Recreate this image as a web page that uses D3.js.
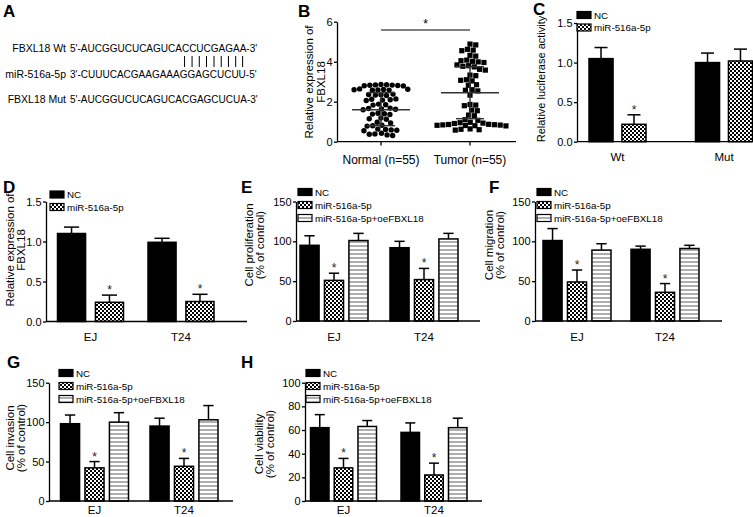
<!DOCTYPE html>
<html><head><meta charset="utf-8">
<script src="https://cdn.jsdelivr.net/npm/d3@7"></script>
<style>body{margin:0;background:#fff} svg{display:block} text{font-family:"Liberation Sans",Arial,sans-serif}</style>
</head><body><svg id="fig" width="753" height="517"></svg>
<script>
// ================= DATA =================
// Panel A
const seqNames = ["FBXL18 Wt", "miR-516a-5p", "FBXL18 Mut"];
const seqStrings = ["5'-AUCGGUCUCAGUCACCUCGAGAA-3'", "3'-CUUUCACGAAGAAAGGAGCUCUU-5'", "5'-AUCGGUCUCAGUCACGAGCUCUA-3'"];
const pairedPositions = [15, 16, 17, 18, 19, 20, 21, 22, 23]; // 1-based base positions paired Wt/miR

// Panel B
const bCategories = ["Normal (n=55)", "Tumor (n=55)"];
const normalValues = [2.86,2.84,2.82,2.80,2.85,2.83,2.81,2.79, 2.62,2.60,2.58,2.64,2.61,2.59,2.57,
  2.38,2.35,2.33,2.36,2.31, 2.12,2.10,2.08,2.14,2.06, 1.88,1.85,1.83, 1.68,1.66,1.64,1.62,1.60,
  1.42,1.40,1.38,1.36, 1.18,1.15,1.12, 0.97,0.94, 0.82,0.80,0.78, 0.63,0.61,0.59,0.57,0.55,
  0.42,0.39,0.37,0.34,0.31];
const tumorValues = [4.88,4.84, 4.62,4.58,4.55, 4.32,4.28, 4.08,4.05,4.02,3.99,3.96, 3.84,3.80,3.77,3.74,
  3.62,3.58, 3.33,3.30, 3.10,3.07,3.04, 2.85,2.82, 2.60,2.57,2.54, 2.33, 1.86,1.83,1.80, 1.58,1.55,
  1.33,1.30, 1.10,1.07, 0.97,0.95,0.93,0.91, 0.87,0.86,0.85,0.84,0.83,0.82,0.81,0.80,0.79,
  0.64,0.62,0.60,0.58];
const bMean = [1.6, 2.45];
const bSdLow = [0.8, 1.15];
const bSdHigh = [2.45, 3.75];
const bTicks = [0, 2, 4, 6];

// Panel C
const cCategories = ["Wt", "Mut"];
const cSeries = ["NC", "miR-516a-5p"];
const cValues = [[1.05, 0.22], [1.00, 1.02]];
const cErrors = [[0.14, 0.12], [0.12, 0.15]];
const cStars = [[0, 1], [0, 0]];
const cTicks = [0, 0.5, 1.0, 1.5];

// Panel D
const dCategories = ["EJ", "T24"];
const dSeries = ["NC", "miR-516a-5p"];
const dValues = [[1.10, 0.24], [0.99, 0.25]];
const dErrors = [[0.08, 0.09], [0.05, 0.09]];
const dStars = [[0, 1], [0, 1]];
const dTicks = [0, 0.5, 1.0, 1.5];

// Panels E-H
const cellCategories = ["EJ", "T24"];
const cellSeries = ["NC", "miR-516a-5p", "miR-516a-5p+oeFBXL18"];
const cellStars = [[0, 1, 0], [0, 1, 0]];
const eValues = [[95, 51, 101], [92, 52, 103]];
const eErrors = [[12, 9, 9], [8, 14, 7]];
const fValues = [[101, 49, 89], [90, 36, 91]];
const fErrors = [[15, 15, 8], [4, 11, 4]];
const gValues = [[98, 42, 100], [95, 44, 103]];
const gErrors = [[11, 8, 12], [10, 10, 18]];
const hValues = [[62, 28, 63], [58, 22, 62]];
const hErrors = [[11, 8, 5], [8, 10, 8]];
const pctTicks = [0, 50, 100, 150];
const viaTicks = [0, 20, 40, 60, 80, 100];

// ================= DRAWING =================
const svg = d3.select("#fig");
const FONT = '"Liberation Sans",Arial,sans-serif';
const defs = svg.append("defs");
const chk = defs.append("pattern").attr("id", "chk").attr("width", 4).attr("height", 4).attr("patternUnits", "userSpaceOnUse");
chk.append("rect").attr("width", 4).attr("height", 4).attr("fill", "#fff");
chk.append("rect").attr("width", 2).attr("height", 2).attr("fill", "#000");
chk.append("rect").attr("x", 2).attr("y", 2).attr("width", 2).attr("height", 2).attr("fill", "#000");
const stp = defs.append("pattern").attr("id", "stripe").attr("width", 4).attr("height", 4).attr("patternUnits", "userSpaceOnUse");
stp.append("rect").attr("width", 4).attr("height", 4).attr("fill", "#fff");
stp.append("rect").attr("y", 1.3).attr("width", 4).attr("height", 1.4).attr("fill", "#8c8c8c");
const fills = ["#000", "url(#chk)", "url(#stripe)"];

function letter(t, x, y) {
  svg.append("text").attr("x", x).attr("y", y).attr("font-size", 17).attr("font-weight", "bold").text(t);
}

function yAxis(x, y, ticks, fmt) {
  const g = svg.append("g").attr("transform", `translate(${x},0)`)
    .call(d3.axisLeft(y).tickValues(ticks).tickFormat(fmt).tickSize(3).tickSizeOuter(0).tickPadding(1.5));
  g.select(".domain").attr("stroke", "#000").attr("stroke-width", 1.3);
  g.selectAll(".tick line").attr("stroke", "#000").attr("stroke-width", 1.3);
  g.selectAll(".tick text").attr("font-size", 11).attr("font-family", FONT).attr("fill", "#000");
  return g;
}

function yTitle(lines, xs, cy, fs) {
  lines.forEach((l, i) => {
    svg.append("text").attr("transform", `translate(${xs[i] + 4},${cy}) rotate(-90)`)
      .attr("text-anchor", "middle").attr("font-size", fs || 11.5).text(l);
  });
}

function legend(series, x, ys) {
  series.forEach((s, i) => {
    svg.append("rect").attr("x", x).attr("y", ys[i] - 3.5).attr("width", 14).attr("height", 7)
      .attr("fill", fills[i]).attr("stroke", "#000").attr("stroke-width", 1.2);
    svg.append("text").attr("x", x + 17).attr("y", ys[i] + 3.5).attr("font-size", 9.8).text(s);
  });
}

function barPanel(c) {
  const y = d3.scaleLinear().domain([0, c.ticks[c.ticks.length - 1]]).range([c.yBottom, c.yTop]);
  const gx = d3.scalePoint().domain(c.cats).range(c.centers);
  const inner = d3.scaleBand().domain(c.series).range([-c.gw / 2, c.gw / 2]).paddingInner(c.pad);
  c.cats.forEach((cat, ci) => {
    c.series.forEach((s, si) => {
      const v = c.values[ci][si], e = c.errors[ci][si];
      const x0 = gx(cat) + inner(s), bw = inner.bandwidth(), xm = x0 + bw / 2;
      svg.append("line").attr("x1", xm).attr("x2", xm).attr("y1", y(v)).attr("y2", y(v + e))
        .attr("stroke", "#000").attr("stroke-width", 1.5);
      svg.append("line").attr("x1", xm - bw * 0.27).attr("x2", xm + bw * 0.27).attr("y1", y(v + e)).attr("y2", y(v + e))
        .attr("stroke", "#000").attr("stroke-width", 1.5);
      svg.append("rect").attr("x", x0).attr("y", y(v)).attr("width", bw).attr("height", y(0) - y(v))
        .attr("fill", fills[si]).attr("stroke", "#000").attr("stroke-width", 1.5);
      if (c.stars[ci][si]) {
        svg.append("text").attr("x", xm).attr("y", y(v + e) - 1).attr("text-anchor", "middle")
          .attr("font-size", 12).attr("fill", "#222").text("*");
      }
    });
    svg.append("text").attr("x", gx(cat)).attr("y", c.labY).attr("text-anchor", "middle")
      .attr("font-size", 11.5).text(cat);
  });
  svg.append("line").attr("x1", c.axisX).attr("x2", c.xEnd).attr("y1", c.yBottom).attr("y2", c.yBottom)
    .attr("stroke", "#000").attr("stroke-width", 1.3);
  yAxis(c.axisX, y, c.ticks, c.fmt);
  yTitle(c.title, c.titleX, c.titleY, c.titleFs);
  legend(c.series, c.legX, c.legY);
  letter(c.letter, c.lx, c.ly);
}

// ---- Panel A ----
letter("A", 3, 17);
const seqY = [52, 78, 103];
const seqEls = seqNames.map((n, i) => {
  svg.append("text").attr("x", 66).attr("y", seqY[i]).attr("text-anchor", "end").attr("font-size", 10.5).text(n);
  return svg.append("text").attr("x", 70).attr("y", seqY[i]).attr("font-size", 10).text(seqStrings[i]);
});
pairedPositions.forEach(p => {
  const idx = p + 2; // skip "5'-"
  const b1 = seqEls[0].node().getExtentOfChar(idx);
  const b2 = seqEls[1].node().getExtentOfChar(idx);
  const xm = ((b1.x + b1.width / 2) + (b2.x + b2.width / 2)) / 2;
  svg.append("line").attr("x1", xm).attr("x2", xm).attr("y1", 56).attr("y2", 67).attr("stroke", "#000").attr("stroke-width", 1);
});

// ---- Panel B ----
letter("B", 298, 17);
{
  const y = d3.scaleLinear().domain([0, 6]).range([141.7, 21.7]);
  const x = d3.scalePoint().domain(bCategories).range([381, 470]);
  svg.append("line").attr("x1", 337).attr("x2", 516).attr("y1", 141.7).attr("y2", 141.7).attr("stroke", "#000").attr("stroke-width", 1.3);
  bCategories.forEach(c => {
    svg.append("line").attr("x1", x(c)).attr("x2", x(c)).attr("y1", 141.7).attr("y2", 145.5).attr("stroke", "#000").attr("stroke-width", 1.3);
    svg.append("text").attr("x", x(c)).attr("y", 164).attr("text-anchor", "middle").attr("font-size", 12).text(c);
  });
  yAxis(337, y, bTicks, d3.format("d"));
  yTitle(["Relative expression of", "FBXL18"], [309, 321], 82);

  function swarm(values, cx, d) {
    const pts = values.map(v => ({ v, y: y(v) })).sort((a, b) => a.y - b.y);
    const placed = [];
    for (const p of pts) {
      const cands = [0];
      for (const q of placed) {
        const dy = Math.abs(q.y - p.y);
        if (dy < d) { const dx = Math.sqrt(d * d - dy * dy); cands.push(q.dx + dx, q.dx - dx); }
      }
      cands.sort((a, b) => Math.abs(a) - Math.abs(b));
      for (const c of cands) {
        if (placed.every(q => (q.dx - c) ** 2 + (q.y - p.y) ** 2 >= d * d - 0.01)) { p.dx = c; break; }
      }
      placed.push(p);
    }
    return placed.map(p => ({ x: cx + p.dx, y: p.y }));
  }
  swarm(normalValues, x(bCategories[0]), 5.6).forEach(p => {
    svg.append("circle").attr("cx", p.x).attr("cy", p.y).attr("r", 2.7).attr("fill", "#000");
  });
  swarm(tumorValues, x(bCategories[1]), 5.8).forEach(p => {
    svg.append("rect").attr("x", p.x - 2.6).attr("y", p.y - 2.6).attr("width", 5.2).attr("height", 5.2).attr("fill", "#000");
  });
  bCategories.forEach((c, i) => {
    const cx = x(c);
    svg.append("line").attr("x1", cx - 29).attr("x2", cx + 29).attr("y1", y(bMean[i])).attr("y2", y(bMean[i])).attr("stroke", "#333").attr("stroke-width", 1.4);
    svg.append("line").attr("x1", cx).attr("x2", cx).attr("y1", y(bSdLow[i])).attr("y2", y(bSdHigh[i])).attr("stroke", "#333").attr("stroke-width", 1.4);
    [bSdLow[i], bSdHigh[i]].forEach(v => svg.append("line").attr("x1", cx - 14).attr("x2", cx + 14).attr("y1", y(v)).attr("y2", y(v)).attr("stroke", "#333").attr("stroke-width", 1.4));
  });
  svg.append("line").attr("x1", x(bCategories[0])).attr("x2", x(bCategories[1])).attr("y1", 30).attr("y2", 30).attr("stroke", "#000").attr("stroke-width", 1);
  svg.append("text").attr("x", (x(bCategories[0]) + x(bCategories[1])) / 2).attr("y", 28).attr("text-anchor", "middle").attr("font-size", 12).text("*");
}

// ---- Panel C ----
barPanel({ letter: "C", lx: 533, ly: 15, cats: cCategories, series: cSeries, values: cValues, errors: cErrors, stars: cStars,
  ticks: cTicks, fmt: d3.format(".1f"), axisX: 577, xEnd: 752, yBottom: 141.7, yTop: 23, centers: [617.5, 724], gw: 57, pad: 0.27,
  labY: 161, title: ["Relative luciferase activity"], titleX: [541], titleY: 79, titleFs: 11, legX: 577, legY: [15, 27.5] });

// ---- Panel D ----
barPanel({ letter: "D", lx: 3, ly: 193, cats: dCategories, series: dSeries, values: dValues, errors: dErrors, stars: dStars,
  ticks: dTicks, fmt: d3.format(".1f"), axisX: 46, xEnd: 247, yBottom: 321.5, yTop: 201.5, centers: [90.5, 181], gw: 66, pad: 0.26,
  labY: 341, title: ["Relative expression of", "FBXL18"], titleX: [10, 21], titleY: 250, legX: 50, legY: [194.5, 207] });

// ---- Panel E ----
barPanel({ letter: "E", lx: 241, ly: 193, cats: cellCategories, series: cellSeries, values: eValues, errors: eErrors, stars: cellStars,
  ticks: pctTicks, fmt: d3.format("d"), axisX: 296, xEnd: 480, yBottom: 321, yTop: 201.5, centers: [334, 424], gw: 68, pad: 0.22,
  labY: 341, title: ["Cell proliferation", "(% of control)"], titleX: [249, 260], titleY: 245, legX: 298, legY: [192, 205, 218] });

// ---- Panel F ----
barPanel({ letter: "F", lx: 489, ly: 193, cats: cellCategories, series: cellSeries, values: fValues, errors: fErrors, stars: cellStars,
  ticks: pctTicks, fmt: d3.format("d"), axisX: 535, xEnd: 722, yBottom: 321, yTop: 201.5, centers: [577, 665], gw: 68, pad: 0.22,
  labY: 341, title: ["Cell migration", "(% of control)"], titleX: [489, 500], titleY: 245, legX: 537, legY: [192, 205, 218] });

// ---- Panel G ----
barPanel({ letter: "G", lx: 7, ly: 368, cats: cellCategories, series: cellSeries, values: gValues, errors: gErrors, stars: cellStars,
  ticks: pctTicks, fmt: d3.format("d"), axisX: 49, xEnd: 233, yBottom: 501, yTop: 382.7, centers: [94.5, 184], gw: 68, pad: 0.22,
  labY: 514, title: ["Cell invasion", "(% of control)"], titleX: [10, 21], titleY: 438, legX: 59, legY: [373, 386, 399] });

// ---- Panel H ----
barPanel({ letter: "H", lx: 241, ly: 368, cats: cellCategories, series: cellSeries, values: hValues, errors: hErrors, stars: cellStars,
  ticks: viaTicks, fmt: d3.format("d"), axisX: 305, xEnd: 482, yBottom: 501, yTop: 382.7, centers: [343.5, 434], gw: 66, pad: 0.22,
  labY: 514, title: ["Cell viability", "(% of control)"], titleX: [259, 270], titleY: 444, legX: 306, legY: [373, 386, 399] });
</script></body></html>
